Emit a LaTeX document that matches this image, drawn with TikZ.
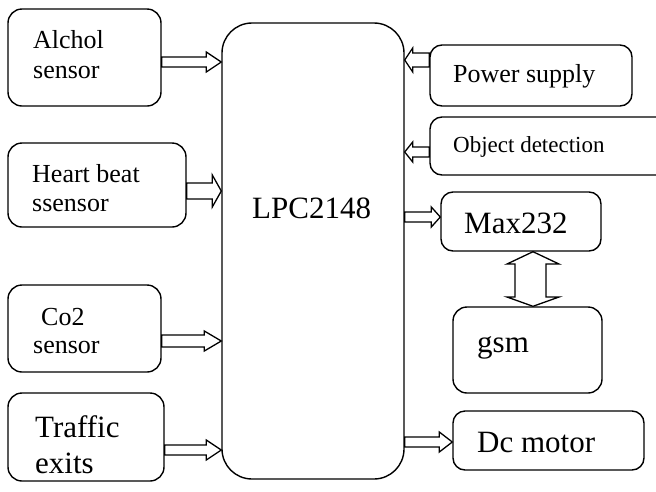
\documentclass[tikz,border=0pt]{standalone}
\usepackage{fontspec}
\setmainfont{Liberation Serif}
\usetikzlibrary{fit,calc}
\tikzset{
  box/.style={draw, line width=1.4pt, rounded corners=14pt, inner sep=0pt},
  bigbox/.style={box, rounded corners=30pt},
  blockarrow/.style={draw, fill=white, line width=1.3pt, line join=miter},
  lbl/.style={inner sep=0pt, anchor=base west},
  fa/.style={font=\fontsize{26}{30}\selectfont},
  fb/.style={font=\fontsize{31}{36}\selectfont},
  fc/.style={font=\fontsize{23}{27}\selectfont},
}
% horizontal block arrow: from, to, y, shaft half, head half, head length
\newcommand\hblock[6]{%
  \draw[blockarrow] let \p1=(#1), \p2=(#2), \p3=(0,#3), \n1={sign(\x2-\x1)} in
   (\x1,{\y3+#4}) -- ({\x2-\n1*#6},{\y3+#4}) -- ({\x2-\n1*#6},{\y3+#5}) -- (\x2,\y3)
   -- ({\x2-\n1*#6},{\y3-#5}) -- ({\x2-\n1*#6},{\y3-#4}) -- (\x1,{\y3-#4}) -- cycle;}
\begin{document}
\begin{tikzpicture}[x=1pt,y=-1pt]
\clip (0,0) rectangle (656,491);
% boxes
\node[box, fit={(8,9)(161,106)}] (alc) {};
\node[box, fit={(8,143)(186,227)}] (hb) {};
\node[box, fit={(8,285)(161,372)}] (co2) {};
\node[box, fit={(8,393)(164,481)}] (tr) {};
\node[bigbox, fit={(222,23)(404,479)}] (lpc) {};
\node[box, rounded corners=12pt, fit={(430,45)(632,106)}] (ps) {};
\node[box, rounded corners=12pt, fit={(430,117)(690,175)}] (od) {};
\node[box, rounded corners=12pt, fit={(441,192)(601,251)}] (max) {};
\node[box, fit={(453,307)(602,393)}] (gsm) {};
\node[box, rounded corners=12pt, fit={(453,411)(644,470)}] (dc) {};
% texts
\node[lbl,fa] (t1) at (33,48) {Alchol};
\node[lbl,fa] (t2) at (33,78) {sensor};
\node[lbl,fa] (t3) at (32,182) {Heart beat};
\node[lbl,fa] (t4) at (32,211) {ssensor};
\node[lbl,fa] (t5) at (41,325) {Co2};
\node[lbl,fa] (t6) at (33,353) {sensor};
\node[lbl,fb] (t7) at (35,437) {Traffic};
\node[lbl,fb] (t8) at (35,473) {exits};
\node[lbl,fb] (t9) at (252,218) {LPC2148};
\node[lbl,fa] (t10) at (453,82) {Power supply};
\node[lbl,fc] (t11) at (453,152) {Object detection};
\node[lbl,fb] (t12) at (464,233) {Max232};
\node[lbl,fb] (t13) at (477,352) {gsm};
\node[lbl,fb] (t14) at (477,452) {Dc motor};
% arrows
\hblock{alc.east}{lpc.west}{62}{5pt}{10pt}{15pt}
\hblock{hb.east}{lpc.west}{191}{8pt}{16pt}{9pt}
\hblock{co2.east}{lpc.west}{341}{6pt}{10pt}{17pt}
\hblock{tr.east}{lpc.west}{450}{5pt}{10pt}{15pt}
\hblock{ps.west}{lpc.east}{60}{7pt}{12pt}{8pt}
\hblock{od.west}{lpc.east}{152}{5pt}{10pt}{8pt}
\hblock{lpc.east}{max.west}{217}{5pt}{10pt}{9pt}
\hblock{lpc.east}{dc.west}{442}{5pt}{10pt}{13pt}
% vertical double arrow between max and gsm
\draw[blockarrow] let \p1=(max.south), \p2=(gsm.north) in
  (533,251 |- \p1) -- (559,264) -- (546,264) -- (546,297) -- (559,297) -- (533,307 |- \p2)
  -- (507,297) -- (515,297) -- (515,264) -- (507,264) -- cycle;
\end{tikzpicture}
\end{document}
